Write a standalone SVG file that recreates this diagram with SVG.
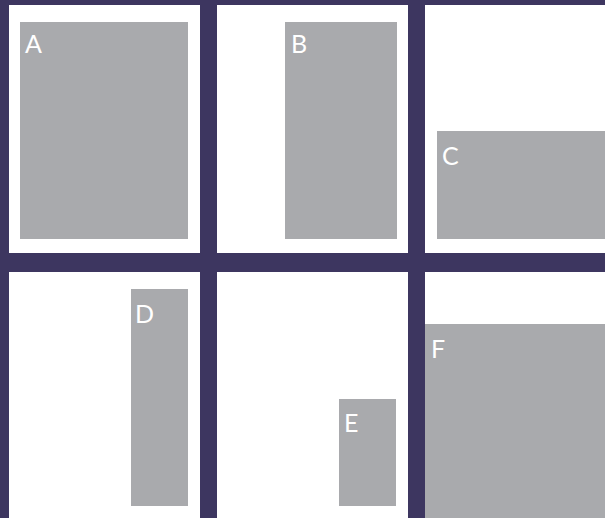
<svg xmlns="http://www.w3.org/2000/svg" width="605" height="518" viewBox="0 0 605 518">
<style>
.bg{fill:#3d3660}
.panel{fill:#ffffff}
.box{fill:#a9aaad}
.lbl{font-family:"Lato","Open Sans","Liberation Sans",sans-serif;font-size:25px;fill:#ffffff}
</style>
<rect class="bg" x="0" y="0" width="605" height="518"/>
<g id="panels">
<rect class="panel" x="9" y="5" width="191" height="248"/>
<rect class="panel" x="217" y="5" width="191" height="248"/>
<rect class="panel" x="425" y="5" width="180" height="248"/>
<rect class="panel" x="9" y="272" width="191" height="246"/>
<rect class="panel" x="217" y="272" width="191" height="246"/>
<rect class="panel" x="425" y="272" width="180" height="246"/>
</g>
<g id="A"><rect class="box" x="20" y="22" width="168" height="217"/><text class="lbl" x="25" y="53">A</text></g>
<g id="B"><rect class="box" x="285" y="22" width="112" height="217"/><text class="lbl" x="291" y="53">B</text></g>
<g id="C"><rect class="box" x="437" y="131" width="168" height="108"/><text class="lbl" x="442" y="165">C</text></g>
<g id="D"><rect class="box" x="131" y="289" width="57" height="217"/><text class="lbl" x="135" y="323">D</text></g>
<g id="E"><rect class="box" x="339" y="399" width="57" height="107"/><text class="lbl" x="344" y="432">E</text></g>
<g id="F"><rect class="box" x="425" y="324" width="180" height="194"/><text class="lbl" x="431" y="358">F</text></g>
</svg>
